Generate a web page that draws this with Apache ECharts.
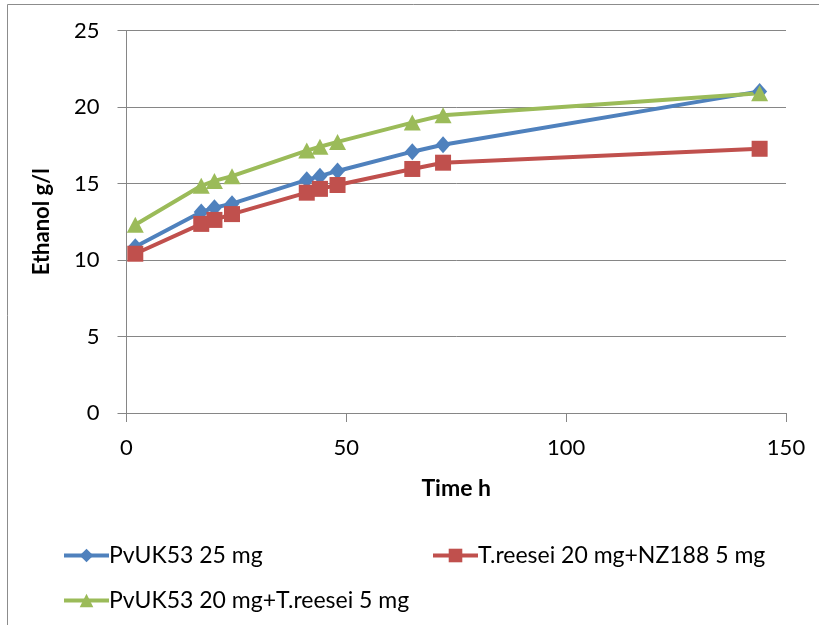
<!DOCTYPE html>
<html><head><meta charset="utf-8">
<script src="https://cdn.jsdelivr.net/npm/echarts@6/dist/echarts.min.js"></script>
<style>html,body{margin:0;padding:0;background:#fff}#c{width:819px;height:625px}</style>
</head><body><div id="c"></div>
<script>
var timeH = [2, 17, 20, 24, 41, 44, 48, 65, 72, 144];
var pvuk53_25 = [10.87, 13.14, 13.42, 13.68, 15.24, 15.48, 15.82, 17.08, 17.53, 21.02];
var treesei_nz188 = [10.41, 12.36, 12.62, 13.0, 14.40, 14.65, 14.9, 15.95, 16.36, 17.27];
var pvuk53_treesei = [12.3, 14.85, 15.17, 15.48, 17.15, 17.4, 17.72, 18.98, 19.46, 20.9];
var seriesNames = ['PvUK53 25 mg', 'T.reesei 20 mg+NZ188 5 mg', 'PvUK53 20 mg+T.reesei 5 mg'];
var xTicks = [0, 50, 100, 150];
var yTicks = [0, 5, 10, 15, 20, 25];

function pairs(xs, ys){ return xs.map(function(x,i){ return [x, ys[i]]; }); }
var FONT = 'Lato';
var chart = echarts.init(document.getElementById('c'), null, {renderer:'canvas'});
var axisGray = '#868686';
function leg(name, left, top){
  return {data:[name], left:left, top:top, itemWidth:45, itemHeight:17, itemGap:0,
    lineStyle:{width:4},
    textStyle:{fontFamily:FONT, fontSize:23, color:'#000', padding:[0,0,0,-5]}};
}
chart.setOption({
  animation: false,
  backgroundColor: '#fff',
  textStyle: {fontFamily: FONT},
  graphic: [{type:'rect', shape:{x:7.5, y:4.5, width:830, height:650}, style:{fill:'none', stroke:'#8c8c8c', lineWidth:1}, silent:true}],
  grid: {left:126.5, right:33, top:30.5, bottom:212, containLabel:false},
  xAxis: {
    type:'value', min:xTicks[0], max:xTicks[xTicks.length-1], interval:50,
    name:'Time h', nameLocation:'middle', nameGap:64,
    nameTextStyle:{fontFamily:FONT, fontSize:23, fontWeight:'bold', color:'#000'},
    axisLine:{show:true, lineStyle:{color:axisGray, width:1}},
    axisTick:{show:true, length:9, lineStyle:{color:axisGray}},
    axisLabel:{fontFamily:FONT, fontSize:22, color:'#000', margin:24},
    splitLine:{show:false}
  },
  yAxis: {
    type:'value', min:yTicks[0], max:yTicks[yTicks.length-1], interval:5,
    name:'Ethanol g/l', nameLocation:'middle', nameGap:74, nameRotate:90,
    nameTextStyle:{fontFamily:FONT, fontSize:22, fontWeight:'bold', color:'#000'},
    axisLine:{show:true, lineStyle:{color:axisGray, width:1}},
    axisTick:{show:true, length:9, lineStyle:{color:axisGray}},
    axisLabel:{fontFamily:FONT, fontSize:22, color:'#000', margin:27},
    splitLine:{show:true, lineStyle:{color:axisGray, width:1}}
  },
  legend: [
    leg(seriesNames[0], 57, 539),
    leg(seriesNames[1], 426, 539),
    leg(seriesNames[2], 57, 584)
  ],
  series: [
    {name:seriesNames[0], type:'line', data:pairs(timeH, pvuk53_25), color:'#4F81BD',
     symbol:'diamond', symbolSize:[15,17], lineStyle:{width:4, color:'#4F81BD'}, itemStyle:{color:'#4F81BD'}},
    {name:seriesNames[1], type:'line', data:pairs(timeH, treesei_nz188), color:'#C0504D',
     symbol:'rect', symbolSize:16, lineStyle:{width:4, color:'#C0504D'}, itemStyle:{color:'#C0504D'}},
    {name:seriesNames[2], type:'line', data:pairs(timeH, pvuk53_treesei), color:'#9BBB59',
     symbol:'triangle', symbolSize:[17,16], lineStyle:{width:4, color:'#9BBB59'}, itemStyle:{color:'#9BBB59'}}
  ]
});
</script></body></html>
